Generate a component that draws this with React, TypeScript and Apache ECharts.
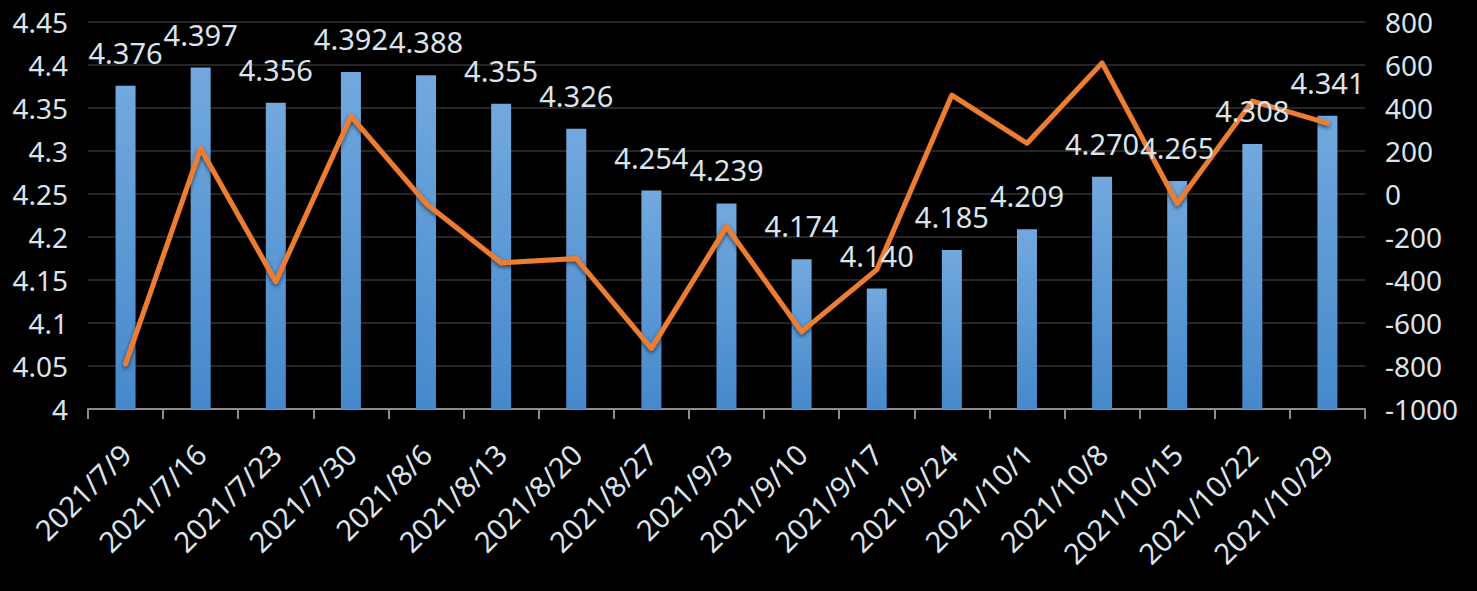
import React, { useEffect, useRef } from "react";
import * as echarts from "echarts";

const categories = [
  "2021/7/9", "2021/7/16", "2021/7/23", "2021/7/30", "2021/8/6", "2021/8/13",
  "2021/8/20", "2021/8/27", "2021/9/3", "2021/9/10", "2021/9/17", "2021/9/24",
  "2021/10/1", "2021/10/8", "2021/10/15", "2021/10/22", "2021/10/29",
];
const barValues = [
  4.376, 4.397, 4.356, 4.392, 4.388, 4.355, 4.326, 4.254, 4.239, 4.174, 4.14,
  4.185, 4.209, 4.27, 4.265, 4.308, 4.341,
];
const lineValues = [
  -790, 212, -408, 362, -44, -320, -300, -718, -152, -640, -352, 460, 236, 610,
  -44, 432, 330,
];

const textColor = "#dbe3ec";
const fontFamily = "'Noto Sans', 'Open Sans', sans-serif";

export default function App() {
  const ref = useRef<HTMLDivElement>(null);
  useEffect(() => {
    if (!ref.current) return;
    const chart = echarts.init(ref.current, undefined, { renderer: "svg" });
    chart.setOption({
      animation: false,
      backgroundColor: "#000000",
      textStyle: { fontFamily },
      grid: { left: 88, right: 112, top: 22, bottom: 182, containLabel: false },
      xAxis: {
        type: "category",
        data: categories,
        boundaryGap: true,
        axisLine: { onZero: false, lineStyle: { color: "#8c8c8c", width: 2 } },
        axisTick: { show: true, length: 10, lineStyle: { color: "#8c8c8c", width: 2 } },
        axisLabel: {
          color: textColor,
          fontSize: 29,
          rotate: 45,
          margin: 40,
          interval: 0,
          fontFamily,
        },
        splitLine: { show: false },
      },
      yAxis: [
        {
          type: "value",
          min: 4,
          max: 4.45,
          interval: 0.05,
          axisLine: { show: false },
          axisTick: { show: false },
          axisLabel: {
            color: textColor,
            fontSize: 28,
            margin: 20,
            fontFamily,
            formatter: (v: number) => String(Math.round(v * 100) / 100),
          },
          splitLine: { lineStyle: { color: "#262626", width: 2 } },
        },
        {
          type: "value",
          min: -1000,
          max: 800,
          interval: 200,
          axisLine: { show: false },
          axisTick: { show: false },
          axisLabel: {
            color: textColor,
            fontSize: 28,
            margin: 20,
            fontFamily,
            formatter: (v: number) => String(v),
          },
          splitLine: { show: false },
        },
      ],
      series: [
        {
          type: "bar",
          data: barValues,
          yAxisIndex: 0,
          barWidth: 20,
          itemStyle: {
            color: new echarts.graphic.LinearGradient(0, 0, 0, 1, [
              { offset: 0, color: "#72a8de" },
              { offset: 1, color: "#4689cb" },
            ]),
          },
          z: 2,
        },
        {
          type: "line",
          data: lineValues,
          yAxisIndex: 1,
          symbol: "none",
          lineStyle: {
            color: "#ed7d31",
            width: 5,
            cap: "round",
            join: "round",
            shadowColor: "rgba(0,0,0,0.6)",
            shadowBlur: 4,
            shadowOffsetY: 2,
          },
          z: 3,
        },
        {
          type: "bar",
          data: barValues,
          yAxisIndex: 0,
          barWidth: 20,
          barGap: "-100%",
          itemStyle: { color: "rgba(0,0,0,0)" },
          silent: true,
          label: {
            show: true,
            position: "top",
            distance: 19,
            color: textColor,
            fontSize: 29,
            fontFamily,
            formatter: (p: any) => Number(p.value).toFixed(3),
          },
          z: 5,
        },
      ],
    });
    return () => chart.dispose();
  }, []);
  return <div ref={ref} style={{ width: 1477, height: 591, position: "absolute", left: 0, top: 0 }} />;
}
